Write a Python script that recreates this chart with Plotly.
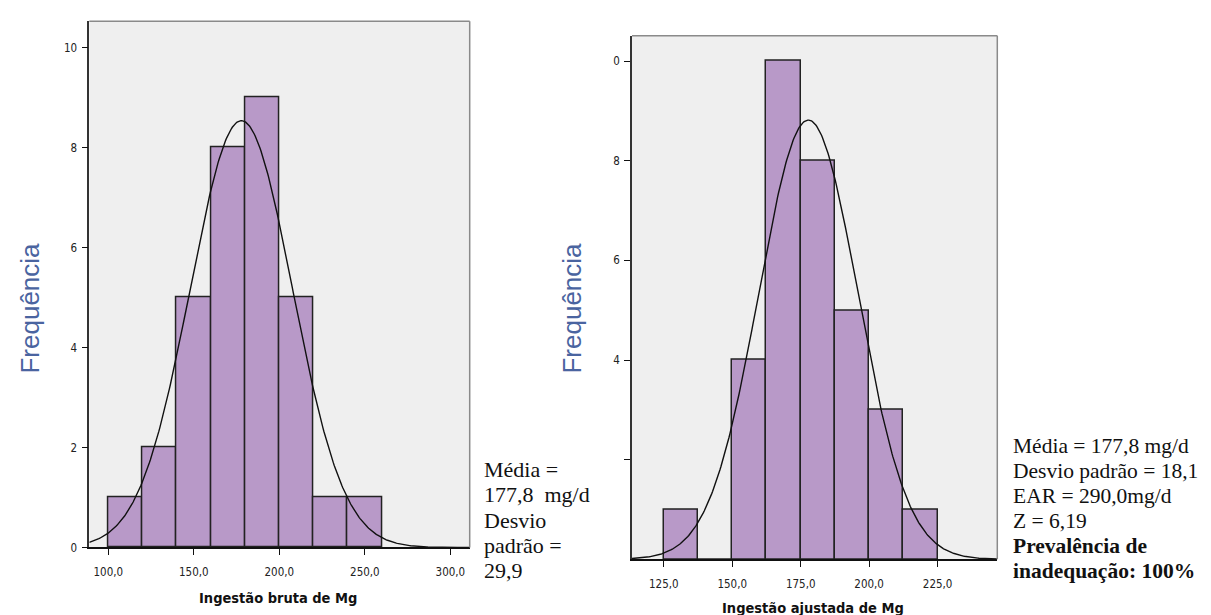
import numpy as np
import plotly.graph_objects as go

# ---- data ----
LEFT_EDGES = [100, 120, 140, 160, 180, 200, 220, 240, 260]
LEFT_COUNTS = [1, 2, 5, 8, 9, 5, 1, 1]
LEFT_MEAN = 177.8
LEFT_SD = 29.9

RIGHT_EDGES = [125, 137.5, 150, 162.5, 175, 187.5, 200, 212.5, 225]
RIGHT_COUNTS = [1, 0, 4, 10, 8, 5, 3, 1]
RIGHT_MEAN = 177.8
RIGHT_SD = 18.1

LEFT_XTICKS = [100, 150, 200, 250, 300]
LEFT_XTICKTEXT = ["100,0", "150,0", "200,0", "250,0", "300,0"]
LEFT_YTICKS = [0, 2, 4, 6, 8, 10]
LEFT_YTICKTEXT = ["0", "2", "4", "6", "8", "10"]

RIGHT_XTICKS = [125, 150, 175, 200, 225]
RIGHT_XTICKTEXT = ["125,0", "150,0", "175,0", "200,0", "225,0"]
RIGHT_YTICKS = [2, 4, 6, 8, 10]
RIGHT_YTICKTEXT = ["", "4", "6", "8", "0"]

LEFT_XTITLE = "Ingestão bruta de Mg"
RIGHT_XTITLE = "Ingestão ajustada de Mg"
YTITLE = "Frequência"

LEFT_NOTE = ["Média =", "177,8  mg/d", "Desvio", "padrão =", "29,9"]
RIGHT_NOTE = ["Média = 177,8 mg/d", "Desvio padrão = 18,1", "EAR = 290,0mg/d",
              "Z = 6,19", "<b>Prevalência de</b>", "<b>inadequação: 100%</b>"]

# ---- styles ----
BAR_COLOR = "#b899c8"
BAR_LINE = "#222222"
BG = "#efefef"
NARROW = "DejaVu Sans Condensed, Liberation Sans Narrow, Arial Narrow, sans-serif"
SERIF = "Liberation Serif, Times New Roman, serif"
YT_COLOR = "#4a64a0"

LX = [88.9, 311.3]
LY = [0, 10.53]
RX = [113.4, 246.8]
RY = [0, 10.51]


def hist_traces(edges, counts, mean, sd, xrange, xa, ya):
    edges = np.asarray(edges, float)
    counts = np.asarray(counts, float)
    centers = (edges[:-1] + edges[1:]) / 2
    widths = np.diff(edges)
    n = counts.sum()
    bw = widths[0]
    xs = np.linspace(xrange[0], xrange[1], 400)
    ys = n * bw / (sd * np.sqrt(2 * np.pi)) * np.exp(-0.5 * ((xs - mean) / sd) ** 2)
    bar = go.Bar(x=centers, y=counts, width=widths, xaxis=xa, yaxis=ya,
                 marker=dict(color=BAR_COLOR, line=dict(color=BAR_LINE, width=1.5)),
                 showlegend=False, hoverinfo="skip")
    curve = go.Scatter(x=xs, y=ys, mode="lines", xaxis=xa, yaxis=ya,
                       line=dict(color="#111111", width=1.4),
                       showlegend=False, hoverinfo="skip", cliponaxis=True)
    return [bar, curve]


fig = go.Figure()
for t in hist_traces(LEFT_EDGES, LEFT_COUNTS, LEFT_MEAN, LEFT_SD, LX, "x", "y"):
    fig.add_trace(t)
for t in hist_traces(RIGHT_EDGES, RIGHT_COUNTS, RIGHT_MEAN, RIGHT_SD, RX, "x2", "y2"):
    fig.add_trace(t)

W, H = 1211, 615
L_DOM_X = [81.3 / W, 461.7 / W]
L_DOM_Y = [(H - 545.7) / H, (H - 13.3) / H]
R_DOM_X = [624.0 / W, 989.3 / W]
R_DOM_Y = [(H - 557.7) / H, (H - 28.0) / H]

tickfont = dict(family=NARROW, size=11.5, color="#222222")
xcommon = dict(showgrid=False, zeroline=False, showline=True, linecolor="#111111",
               linewidth=1.6, ticks="outside", ticklen=6, tickwidth=1.4,
               tickcolor="#111111", tickfont=tickfont, ticklabelstandoff=7)
ycommon = dict(showgrid=False, zeroline=False, showline=True, linecolor="#333333",
               linewidth=1.6, ticks="outside", ticklen=6, tickwidth=1.4,
               tickcolor="#111111", tickfont=tickfont, ticklabelstandoff=2)

fig.update_layout(
    width=W, height=H,
    margin=dict(l=0, r=0, t=0, b=0),
    paper_bgcolor="white",
    plot_bgcolor=BG,
    bargap=0,
    xaxis=dict(domain=L_DOM_X, range=LX, tickvals=LEFT_XTICKS, ticktext=LEFT_XTICKTEXT,
               anchor="y", **xcommon),
    yaxis=dict(domain=L_DOM_Y, range=LY, tickvals=LEFT_YTICKS, ticktext=LEFT_YTICKTEXT,
               anchor="x", **ycommon),
    xaxis2=dict(domain=R_DOM_X, range=RX, tickvals=RIGHT_XTICKS, ticktext=RIGHT_XTICKTEXT,
                anchor="y2", **xcommon),
    yaxis2=dict(domain=R_DOM_Y, range=RY, tickvals=RIGHT_YTICKS, ticktext=RIGHT_YTICKTEXT,
                anchor="x2", **ycommon),
)

# gray frame on top and right
for xr, yr in (("x", "y"), ("x2", "y2")):
    fig.add_shape(type="line", xref=f"{xr} domain", yref=f"{yr} domain",
                  x0=0, x1=1, y0=1, y1=1, line=dict(color="#8a8a8a", width=1.5))
    fig.add_shape(type="line", xref=f"{xr} domain", yref=f"{yr} domain",
                  x0=1, x1=1, y0=0, y1=1, line=dict(color="#8a8a8a", width=1.5))


def px(x, y):
    return x / W, 1 - y / H


annotations = []
# axis titles
for (cx, cy, txt) in ((270, 597, LEFT_XTITLE), (805, 607, RIGHT_XTITLE)):
    ax, ay = px(cx, cy)
    annotations.append(dict(x=ax, y=ay, xref="paper", yref="paper", showarrow=False,
                            text=f"<b>{txt}</b>", xanchor="center", yanchor="middle",
                            font=dict(family=NARROW, size=14.5, color="#111111")))
for (cx, cy) in ((22, 304), (564, 304)):
    ax, ay = px(cx, cy)
    annotations.append(dict(x=ax, y=ay, xref="paper", yref="paper", showarrow=False,
                            text=YTITLE, textangle=-90, xanchor="center", yanchor="middle",
                            font=dict(family="Liberation Sans, Arial, sans-serif", size=26,
                                      color=YT_COLOR)))
# notes
left_y = [467, 492.5, 518, 543.5, 569]
for txt, yy in zip(LEFT_NOTE, left_y):
    ax, ay = px(474, yy)
    annotations.append(dict(x=ax, y=ay, xref="paper", yref="paper", showarrow=False,
                            text=txt, xanchor="left", yanchor="middle",
                            font=dict(family=SERIF, size=22, color="#111111")))
right_y = [443, 468.3, 493.6, 518.9, 544.2, 569.5]
for txt, yy in zip(RIGHT_NOTE, right_y):
    ax, ay = px(1003, yy)
    annotations.append(dict(x=ax, y=ay, xref="paper", yref="paper", showarrow=False,
                            text=txt, xanchor="left", yanchor="middle",
                            font=dict(family=SERIF, size=21.5, color="#111111")))

fig.update_layout(annotations=annotations)

fig.write_html("out.html")
